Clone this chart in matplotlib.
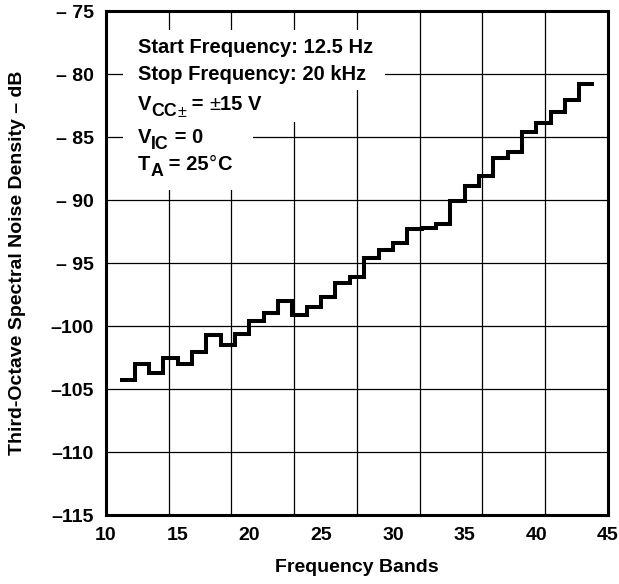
import numpy as np
import matplotlib
matplotlib.use('Agg')
import matplotlib.pyplot as plt
from matplotlib.patches import Rectangle

# ---- data ----
bands = list(range(11, 44))
noise_db = [-104.3, -103.0, -103.7, -102.5, -103.0, -102.1, -100.7, -101.5, -100.6,
            -99.6, -99.0, -98.0, -99.1, -98.5, -97.7, -96.6, -96.1, -94.6, -94.0,
            -93.4, -92.3, -92.2, -91.9, -90.1, -88.9, -88.1, -86.7, -86.2, -84.6,
            -83.9, -83.0, -82.1, -80.8]
last_band_end = 44
x_ticks = [10, 15, 20, 25, 30, 35, 40, 45]
x_tick_labels = ['10', '15', '20', '25', '30', '35', '40', '45']
y_ticks = [-115, -110, -105, -100, -95, -90, -85, -80, -75]
y_tick_labels = ['–115', '–110', '–105', '–100', '– 95', '– 90', '– 85', '– 80', '– 75']
x_label = 'Frequency Bands'
y_label = 'Third-Octave Spectral Noise Density – dB'

FONT = 'Liberation Sans'
plt.rcParams['font.family'] = [FONT, 'DejaVu Sans']
plt.rcParams['font.weight'] = 'bold'

fig = plt.figure(figsize=(6.19, 5.84), dpi=100)
ax = fig.add_axes([106/619, 1-515/584, 502/619, 504/584])

ax.set_xlim(10, 45)
ax.set_ylim(-115, -75)

# grid: 8 vertical divisions, 5 dB horizontal
for gx in np.linspace(10, 45, 9)[1:-1]:
    ax.axvline(gx, color='black', lw=0.9, zorder=1)
for gy in y_ticks[1:-1]:
    ax.axhline(gy, color='black', lw=0.9, zorder=1)

edges = bands + [last_band_end]
vals = noise_db + [noise_db[-1]]
ax.step(edges, vals, where='post', color='black', lw=2.9, zorder=4,
        solid_joinstyle='miter', solid_capstyle='butt')

ax.set_xticks(x_ticks)
ax.set_xticklabels(x_tick_labels)
ax.set_yticks(y_ticks)
ax.set_yticklabels(y_tick_labels)
ax.tick_params(axis='both', length=0, labelsize=14)
ax.tick_params(axis='x', pad=9)
ax.tick_params(axis='y', pad=9)
for lab in ax.get_xticklabels() + ax.get_yticklabels():
    lab.set_fontweight('bold')
for sp in ax.spines.values():
    sp.set_linewidth(2.2)
    sp.set_zorder(6)

# white backgrounds behind the annotation block
def wrect(x0, x1, y0, y1):
    ax.add_patch(Rectangle(((x0-106)/502, (515-y1)/504), (x1-x0)/502, (y1-y0)/504,
                           transform=ax.transAxes, facecolor='white',
                           edgecolor='none', zorder=2))
wrect(123, 385, 30, 90)
wrect(123, 300, 90, 122)
wrect(123, 253, 122, 190)

FS = 14.5

def rich_line(x, y, pieces):
    t0, s0, _, w0 = pieces[0]
    base = ax.text(x, y, t0, transform=ax.transAxes, fontsize=FS*s0,
                   fontweight=w0, va='baseline', ha='left', zorder=5)
    prev = base
    for txt, sc, dy, w in pieces[1:]:
        prev = ax.annotate(txt, xy=(1, 0), xycoords=(prev, base),
                           xytext=(0, dy), textcoords='offset points',
                           fontsize=FS*sc, fontweight=w, va='bottom', ha='left',
                           zorder=5, annotation_clip=False)

x0 = (138-106)/502
rich_line(x0, (515-53)/504, [('Start Frequency: 12.5 Hz', 1, 0, 'bold')])
rich_line(x0, (515-80)/504, [('Stop Frequency: 20 kHz', 1, 0, 'bold')])
rich_line(x0, (515-110)/504, [('V', 1, 0, 'bold'), ('CC', 0.88, -4, 'bold'),
                              ('±', 0.8, -4, 'normal'), (' = ', 1, 0, 'bold'),
                              ('±', 1, 0, 'normal'), ('15 V', 1, 0, 'bold')])
rich_line(x0, (515-143)/504, [('V', 1, 0, 'bold'), ('IC', 0.88, -4, 'bold'),
                              (' = 0', 1, 0, 'bold')])
rich_line(x0, (515-170)/504, [('T', 1, 0, 'bold'), ('A', 0.88, -4, 'bold'),
                              (' = 25', 1, 0, 'bold'), ('°', 1, 0, 'normal'),
                              ('C', 1, 0, 'bold')])

fig.text(357/619, 1-568/584, x_label, ha='center', va='center',
         fontsize=14, fontweight='bold')
fig.text(18/619, 1-263/584, y_label, ha='center', va='center', rotation=90,
         fontsize=14, fontweight='bold')

fig.savefig('out.png', dpi=100)
